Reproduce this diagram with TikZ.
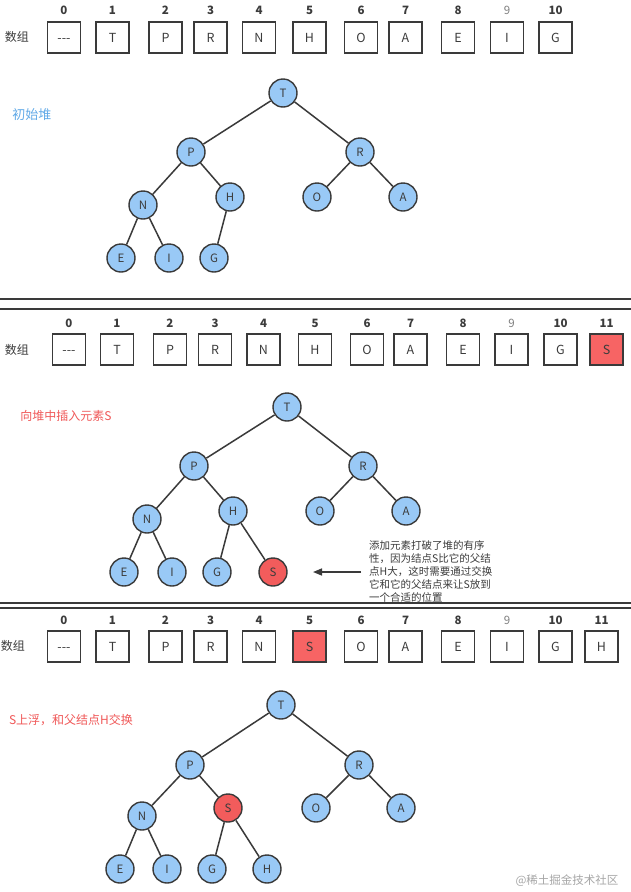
\documentclass[tikz,border=0pt]{standalone}
\usepackage{fontspec}
\setmainfont{Noto Sans CJK SC}
\usepackage{tikz}
\usetikzlibrary{arrows.meta}
\definecolor{heapblue}{RGB}{153,201,246}
\definecolor{heapred}{RGB}{242,92,92}
\definecolor{cellred}{RGB}{247,100,100}
\definecolor{edgegray}{RGB}{58,58,58}
\definecolor{tagblue}{RGB}{98,170,232}
\definecolor{tagred}{RGB}{240,88,88}
\definecolor{textgray}{RGB}{60,60,60}

\begin{document}
\begin{tikzpicture}[x=1pt, y=-1pt,
  cell/.style={draw=edgegray, line width=1.3pt, minimum width=33pt, minimum height=31pt, inner sep=0pt, text height=9pt, text depth=0pt, font=\fontsize{12.5}{12.5}\selectfont, text=textgray},
  idx/.style={font=\fontsize{11.5}{11.5}\selectfont\bfseries, text=textgray},
  key/.style={circle, draw=edgegray, line width=1.4pt, fill=heapblue, minimum size=28pt, inner sep=0pt, font=\fontsize{11.5}{11.5}\selectfont, text=textgray},
  hot/.style={key, fill=heapred},
  link/.style={edgegray, line width=1.5pt},
  lbl/.style={font=\fontsize{12}{12}\selectfont},
  sep/.style={edgegray, line width=1.3pt},
  arr/.style={-{Triangle[length=9pt, width=7pt]}, edgegray, line width=1.5pt}
]
  \useasboundingbox[fill=white] (0,0) rectangle (631,892);

  % ── Panel 1: initial heap ──
  \node[lbl, text=textgray] (arr1) at (17,37) {数组};
  \foreach \i/\x/\v/\c in {0/64/-{}-{}-/white, 1/112.5/T/white, 2/165.5/P/white, 3/210.5/R/white,
      4/259/N/white, 5/309.5/H/white, 6/361/O/white, 7/405.5/A/white, 8/458/E/white,
      9/507/I/white, 10/555.5/G/white} {
    \node[idx] (ia\i) at (\x,10) {\ifnum\i=9 \mdseries\color{gray}\fi\i};
    \node[cell, fill=\c] (ca\i) at (\x,37.5) {\v};
  }
  \node[lbl, text=tagblue, font=\fontsize{13}{13}\selectfont] (tag1) at (32,115) {初始堆};

  \node[key] (t1) at (283,93) {T};
  \node[key] (p1) at (191,152) {P};
  \node[key] (r1) at (360,152) {R};
  \node[key] (n1) at (143,205) {N};
  \node[key] (h1) at (230,197) {H};
  \node[key] (o1) at (317,197) {O};
  \node[key] (a1) at (403,197) {A};
  \node[key] (e1) at (121,258) {E};
  \node[key] (i1) at (169,258) {I};
  \node[key] (g1) at (214,258) {G};
  \draw[link] (t1) -- (p1) (t1) -- (r1) (p1) -- (n1) (p1) -- (h1)
              (r1) -- (o1) (r1) -- (a1) (n1) -- (e1) (n1) -- (i1) (h1) -- (g1);

  \draw[sep] (0,299) -- (631,299);
  \draw[sep] (0,309) -- (631,309);

  % ── Panel 2: insert S ──
  \node[lbl, text=textgray] (arr2) at (17,350) {数组};
  \foreach \i/\x/\v/\c in {0/69/-{}-{}-/white, 1/117/T/white, 2/170/P/white, 3/215/R/white,
      4/263.5/N/white, 5/315/H/white, 6/367/O/white, 7/410.5/A/white, 8/463/E/white,
      9/511.5/I/white, 10/560.5/G/white, 11/606.5/S/cellred} {
    \node[idx] (ib\i) at (\x,323) {\ifnum\i=9 \mdseries\color{gray}\fi\i};
    \node[cell, fill=\c] (cb\i) at (\x,349.5) {\v};
  }
  \node[lbl, text=tagred] (tag2) at (66,416) {向堆中插入元素S};

  \node[key] (t2) at (287,407) {T};
  \node[key] (p2) at (194,466) {P};
  \node[key] (r2) at (363,466) {R};
  \node[key] (n2) at (147,519) {N};
  \node[key] (h2) at (233,511) {H};
  \node[key] (o2) at (320,511) {O};
  \node[key] (a2) at (406,511) {A};
  \node[key] (e2) at (124,572) {E};
  \node[key] (i2) at (172,572) {I};
  \node[key] (g2) at (217,572) {G};
  \node[hot] (s2) at (273,572) {S};
  \draw[link] (t2) -- (p2) (t2) -- (r2) (p2) -- (n2) (p2) -- (h2)
              (r2) -- (o2) (r2) -- (a2) (n2) -- (e2) (n2) -- (i2) (h2) -- (g2) (h2) -- (s2);

  \node[anchor=west, inner sep=0pt, align=left, text=textgray, font=\fontsize{10.5}{13}\selectfont] (note) at (369,571)
    {添加元素打破了堆的有序\\性，因为结点S比它的父结\\点H大，这时需要通过交换\\它和它的父结点来让S放到\\一个合适的位置};
  \coordinate (tip) at (313,572);
  \draw[arr] ([xshift=-8pt,yshift=-1pt]note.west) -- (tip);

  \draw[sep] (0,603) -- (631,603);
  \draw[sep] (0,608) -- (631,608);

  % ── Panel 3: S swims up ──
  \node[lbl, text=textgray] (arr3) at (13,646) {数组};
  \foreach \i/\x/\v/\c in {0/64/-{}-{}-/white, 1/112.5/T/white, 2/165.5/P/white, 3/210.5/R/white,
      4/259/N/white, 5/309.5/S/cellred, 6/361/O/white, 7/405.5/A/white, 8/458/E/white,
      9/507/I/white, 10/555.5/G/white, 11/601.5/H/white} {
    \node[idx] (ic\i) at (\x,620) {\ifnum\i=9 \mdseries\color{gray}\fi\i};
    \node[cell, fill=\c] (cc\i) at (\x,646.5) {\v};
  }
  \node[lbl, text=tagred] (tag3) at (71,720) {S上浮，和父结点H交换};

  \node[key] (t3) at (281,705) {T};
  \node[key] (p3) at (190,765) {P};
  \node[key] (r3) at (359,765) {R};
  \node[key] (n3) at (142,816) {N};
  \node[hot] (s3) at (228,808) {S};
  \node[key] (o3) at (316,808) {O};
  \node[key] (a3) at (401,808) {A};
  \node[key] (e3) at (120,869) {E};
  \node[key] (i3) at (167,869) {I};
  \node[key] (g3) at (212,869) {G};
  \node[key] (h3) at (267,869) {H};
  \draw[link] (t3) -- (p3) (t3) -- (r3) (p3) -- (n3) (p3) -- (s3)
              (r3) -- (o3) (r3) -- (a3) (n3) -- (e3) (n3) -- (i3) (s3) -- (g3) (s3) -- (h3);

  \node[font=\fontsize{11.5}{11.5}\selectfont, text=gray!70] (mark) at (567,881) {@稀土掘金技术社区};
\end{tikzpicture}
\end{document}
